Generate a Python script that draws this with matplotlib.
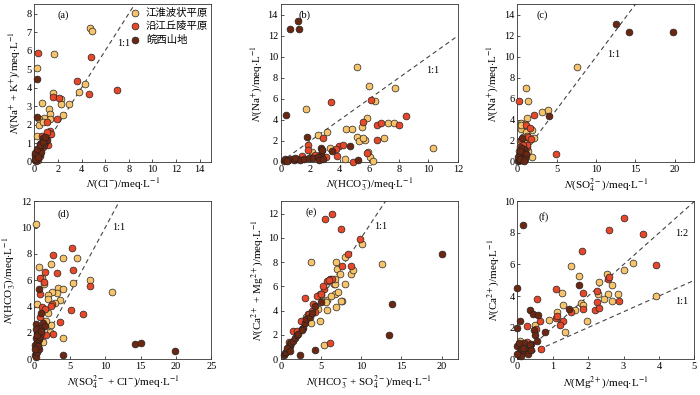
import numpy as np
import matplotlib
matplotlib.use("Agg")
import matplotlib.pyplot as plt

plt.rcParams['font.family'] = ['Liberation Serif', 'Noto Sans CJK SC']
plt.rcParams['mathtext.fontset'] = 'stix'
plt.rcParams['font.size'] = 7

c_yel = '#F7C46C'
c_red = '#E8482A'
c_brn = '#6B2712'
groups = ['江淮波状平原', '沿江丘陵平原', '皖西山地']

# (a) Cl- vs Na+ + K+
a_yel = [[4.7, 7.23], [4.9, 7.05], [1.7, 5.8], [0.2, 5.06], [0.68, 3.2], [1.55, 3.74], [3.77, 3.77],
         [4.3, 4.22], [2.25, 3.42], [2.28, 3.13], [2.96, 3.13], [1.24, 2.88], [1.35, 2.6], [1.3, 2.34],
         [2.4, 2.54], [0.8, 2.36], [0.4, 2.33], [0.37, 1.97], [0.76, 2.18], [0.2, 1.4], [0.25, 0.48],
         [0.9, 1.2], [0.6, 0.9], [1.0, 1.35]]
a_red = [[0.3, 5.85], [4.8, 5.67], [3.6, 4.37], [1.6, 3.52], [2.05, 3.47], [4.6, 3.69], [7.0, 3.88],
         [1.95, 2.33], [1.3, 1.66], [1.3, 1.52], [1.1, 2.15], [0.65, 1.38], [1.2, 0.91], [0.5, 0.98],
         [0.28, 0.12], [1.4, 1.5], [1.1, 1.6], [0.9, 1.1], [0.7, 0.8], [0.5, 0.6], [0.3, 0.4],
         [0.8, 1.3], [0.45, 0.3], [1.0, 1.2]]
a_brn = [[0.2, 4.47], [0.2, 2.45], [0.76, 1.29], [1.04, 1.2], [0.2, 0.3], [0.1, 0.1], [0.15, 0.2],
         [0.3, 0.5], [0.05, 0.35], [0.4, 0.7], [0.6, 1.0], [0.25, 0.15], [0.5, 0.45], [0.35, 0.6],
         [0.1, 0.5], [0.8, 0.9], [0.6, 0.55], [0.15, 0.05], [0.2, 0.7], [0.45, 0.9], [0.05, 0.15],
         [0.3, 0.25], [0.7, 1.1], [0.9, 1.35]]

# (b) HCO3- vs Na+
b_yel = [[5.15, 9.0], [6.01, 7.22], [7.75, 7.0], [6.4, 5.79], [1.72, 5.06], [5.83, 4.23], [7.3, 3.75],
         [7.7, 3.75], [4.43, 3.12], [4.8, 3.18], [5.5, 3.34], [3.12, 2.86], [2.55, 2.6], [5.71, 2.13],
         [5.2, 2.39], [5.33, 1.97], [5.56, 2.3], [7.0, 2.3], [3.37, 1.37], [2.1, 0.95], [2.1, 0.48],
         [4.34, 0.32], [5.94, 0.95], [6.05, 0.48], [6.24, 0.1], [10.3, 1.37]]
b_red = [[3.43, 5.7], [6.14, 5.89], [5.6, 3.82], [6.55, 3.47], [6.8, 3.72], [8.0, 3.53], [8.47, 4.33],
         [6.5, 2.13], [2.9, 2.32], [1.88, 1.59], [1.83, 1.1], [3.98, 1.5], [4.25, 1.6], [3.77, 1.21],
         [3.8, 0.54], [3.07, 0.48], [4.93, 0.03], [5.83, 0.86], [1.42, 0.54], [2.33, 0.64]]
b_brn = [[0.63, 12.63], [1.15, 13.46], [1.27, 12.63], [0.36, 4.45], [1.76, 2.39], [2.73, 1.34],
         [2.78, 1.11], [2.7, 0.8], [2.67, 0.32], [4.7, 1.5], [5.27, 0.22], [2.78, 1.18], [0.2, 0.1],
         [0.3, 0.25], [0.5, 0.2], [0.7, 0.3], [0.9, 0.15], [1.1, 0.3], [1.3, 0.2], [1.6, 0.25],
         [1.9, 0.4], [2.2, 0.35], [2.5, 0.5], [2.6, 0.15], [3.5, 1.0], [0.4, 0.05], [1.0, 0.35],
         [2.9, 0.25]]

# (c) SO4 2- vs Na+
c_yel_pts = [[7.58, 9.0], [1.14, 7.0], [1.39, 5.79], [3.16, 4.77], [3.87, 4.93], [1.26, 4.2], [0.42, 3.72],
             [0.93, 3.6], [0.42, 3.09], [1.81, 3.02], [1.05, 2.86], [2.1, 2.32], [1.26, 2.45], [0.7, 2.39],
             [1.9, 0.48], [0.6, 1.43], [0.3, 2.0], [1.5, 2.0], [0.5, 3.5], [0.2, 1.0], [1.3, 1.0], [0.8, 1.8]]
c_red_pts = [[0.21, 5.82], [2.1, 4.45], [1.05, 3.5], [1.6, 3.25], [0.5, 2.07], [1.26, 1.43], [4.88, 0.8],
             [0.76, 0.8], [1.0, 1.1], [0.4, 0.5], [0.6, 1.2], [1.2, 1.6], [0.3, 0.9], [0.9, 0.4],
             [1.4, 2.4], [0.2, 0.2], [1.1, 0.7], [0.7, 1.6], [0.5, 0.15], [1.7, 2.2], [0.35, 1.4]]
c_brn_pts = [[12.55, 13.1], [14.2, 12.4], [19.83, 12.4], [4.0, 4.36], [0.1, 0.1], [0.2, 0.3], [0.3, 0.15],
             [0.5, 0.4], [0.4, 0.7], [0.6, 0.2], [0.8, 0.5], [0.2, 0.6], [0.7, 0.9], [0.9, 1.2],
             [1.1, 0.8], [0.5, 1.3], [0.3, 1.0], [0.15, 0.45], [1.0, 0.3], [0.6, 2.3], [0.35, 0.25],
             [0.9, 0.1]]

# (d) SO4 2- + Cl- vs HCO3-
d_yel = [[0.28, 10.27], [0.6, 7.0], [4.1, 7.68], [2.34, 7.25], [5.98, 7.73], [1.07, 6.15], [1.31, 5.7],
         [7.85, 6.0], [10.93, 5.11], [5.5, 5.77], [3.41, 5.39], [4.1, 5.34], [3.18, 5.06], [2.48, 5.14],
         [1.9, 4.88], [0.37, 4.2], [3.64, 4.5], [2.94, 4.25], [2.38, 2.6], [2.24, 2.08], [1.21, 1.32],
         [4.02, 1.63], [1.92, 3.48], [2.0, 4.57], [1.6, 2.9], [1.0, 2.2]]
d_red = [[5.28, 8.44], [2.57, 7.93], [5.42, 6.76], [3.27, 6.53], [1.45, 6.61], [0.75, 6.18], [1.31, 5.85],
         [0.75, 4.93], [2.48, 4.2], [2.34, 4.02], [1.07, 3.97], [1.54, 3.79], [0.84, 3.2], [5.14, 3.74],
         [6.92, 3.4], [3.64, 2.85], [7.85, 5.6], [2.57, 1.88], [1.68, 1.83], [0.9, 2.0], [0.5, 1.4]]
d_brn = [[0.7, 5.31], [0.19, 2.67], [0.84, 2.34], [1.21, 2.72], [0.98, 3.48], [1.54, 2.52], [4.1, 0.3],
         [14.25, 1.12], [15.1, 1.22], [19.8, 0.64], [0.1, 0.3], [0.2, 0.6], [0.3, 0.9], [0.15, 1.1],
         [0.4, 1.3], [0.25, 1.6], [0.5, 1.9], [0.35, 2.0], [0.6, 1.5], [0.2, 0.15], [0.45, 0.5],
         [0.7, 0.8], [0.3, 2.3], [0.55, 1.0], [0.1, 0.8], [0.8, 1.7], [0.4, 1.85], [1.0, 2.1]]

# (e) HCO3- + SO4 2- vs Ca2+ + Mg2+
e_yel = [[3.82, 8.0], [6.86, 8.0], [10.14, 9.46], [12.53, 7.86], [8.0, 8.41], [6.98, 7.39], [7.39, 6.98],
         [8.7, 6.98], [9.04, 7.31], [6.57, 6.15], [8.0, 6.15], [6.78, 5.38], [5.75, 4.91], [6.9, 4.28],
         [5.75, 4.08], [7.6, 4.77], [4.93, 3.12], [3.78, 2.98], [5.34, 1.19], [4.6, 4.1], [7.5, 4.8],
         [5.6, 4.7], [6.2, 5.2], [7.1, 5.5], [5.0, 5.3], [3.2, 3.5], [6.7, 6.2], [4.9, 5.4], [6.8, 6.6]]
e_red = [[5.46, 11.53], [6.37, 11.94], [7.47, 10.76], [9.86, 9.88], [8.42, 8.69], [7.64, 7.64],
         [8.71, 7.64], [3.08, 5.05], [6.08, 6.57], [4.02, 4.55], [3.37, 3.72], [1.48, 2.34], [2.05, 2.29],
         [6.16, 1.32], [1.0, 1.4], [1.2, 1.3], [2.5, 3.1], [3.5, 3.7], [4.5, 5.2], [5.4, 5.8], [5.8, 6.4],
         [6.4, 6.6], [4.2, 3.9], [3.9, 4.0], [5.0, 5.4], [1.1, 1.2], [0.9, 0.9], [6.0, 6.5], [5.3, 6.0]]
e_brn = [[20.04, 8.69], [13.88, 4.5], [13.47, 2.01], [4.31, 0.77], [2.34, 0.3], [0.41, 0.3], [0.5, 0.5],
         [0.7, 0.6], [0.9, 0.8], [1.0, 1.0], [1.2, 1.1], [1.3, 1.3], [1.5, 1.5], [1.8, 1.7], [2.0, 2.0],
         [2.2, 2.1], [2.6, 2.5], [2.8, 2.6], [3.0, 3.0], [3.2, 3.3], [3.6, 3.5], [3.9, 3.8], [4.3, 4.4],
         [0.8, 0.9], [1.1, 0.7], [2.7, 2.4], [5.0, 4.7]]

# (f) Mg2+ vs Ca2+
f_yel = [[1.53, 5.9], [1.75, 5.26], [2.52, 5.37], [3.02, 5.63], [3.28, 6.12], [2.57, 4.1], [2.28, 4.1],
         [2.85, 4.1], [2.66, 4.69], [2.32, 4.9], [1.25, 4.2], [1.11, 3.0], [1.28, 3.46], [1.79, 3.57],
         [1.85, 3.4], [1.96, 2.44], [1.63, 3.14], [1.35, 1.72], [0.5, 2.19], [0.9, 2.5], [3.91, 4.03],
         [2.45, 3.84], [2.66, 3.67], [0.09, 1.13]]
f_red = [[3.0, 8.94], [2.59, 8.17], [3.54, 7.96], [1.82, 6.86], [3.92, 5.94], [2.57, 5.05], [2.58, 5.2],
         [1.08, 4.42], [1.85, 4.2], [2.24, 4.31], [2.26, 3.63], [2.18, 3.14], [2.32, 3.25], [2.88, 3.67],
         [0.56, 3.78], [0.64, 2.44], [0.28, 2.08], [0.53, 1.93], [1.09, 2.61], [1.11, 2.76], [1.3, 2.4],
         [1.52, 2.99], [1.86, 3.2], [1.2, 2.19], [0.66, 0.66], [0.26, 1.06]]
f_brn = [[0.15, 8.51], [0.0, 4.48], [0.0, 1.97], [0.09, 2.4], [0.36, 3.14], [0.45, 2.87], [0.59, 2.82],
         [0.78, 1.72], [0.47, 1.87], [0.5, 1.55], [0.55, 1.13], [0.4, 0.98], [1.75, 4.69], [1.47, 3.2],
         [0.0, 0.8], [0.05, 0.4], [0.1, 0.6], [0.15, 0.9], [0.2, 0.5], [0.25, 0.8], [0.3, 0.6], [0.1, 0.2],
         [0.2, 1.0], [0.35, 0.9], [0.05, 1.0], [0.3, 0.3], [0.15, 0.7], [0.4, 0.6], [0.0, 0.3]]

xlabels = [r'$\it{N}$(Cl$^{-}$)/meq$\cdot$L$^{-1}$',
           r'$\it{N}$(HCO$_3^{-}$)/meq$\cdot$L$^{-1}$',
           r'$\it{N}$(SO$_4^{2-}$)/meq$\cdot$L$^{-1}$',
           r'$\it{N}$(SO$_4^{2-}$ + Cl$^{-}$)/meq$\cdot$L$^{-1}$',
           r'$\it{N}$(HCO$_3^{-}$ + SO$_4^{2-}$)/meq$\cdot$L$^{-1}$',
           r'$\it{N}$(Mg$^{2+}$)/meq$\cdot$L$^{-1}$']
ylabels = [r'$\it{N}$(Na$^{+}$ + K$^{+}$)/meq$\cdot$L$^{-1}$',
           r'$\it{N}$(Na$^{+}$)/meq$\cdot$L$^{-1}$',
           r'$\it{N}$(Na$^{+}$)/meq$\cdot$L$^{-1}$',
           r'$\it{N}$(HCO$_3^{-}$)/meq$\cdot$L$^{-1}$',
           r'$\it{N}$(Ca$^{2+}$ + Mg$^{2+}$)/meq$\cdot$L$^{-1}$',
           r'$\it{N}$(Ca$^{2+}$)/meq$\cdot$L$^{-1}$']
xlims = [15, 12, 22.5, 25, 22, 5]
ylims = [8.5, 15, 15, 12, 13, 10]
xticks = [np.arange(0, 15, 2), np.arange(0, 13, 2), np.arange(0, 21, 5),
          np.arange(0, 26, 5), np.arange(0, 21, 5), np.arange(0, 6, 1)]
yticks = [np.arange(0, 9, 1), np.arange(0, 15, 2), np.arange(0, 15, 2),
          np.arange(0, 13, 2), np.arange(0, 13, 2), np.arange(0, 11, 2)]
tags = ['(a)', '(b)', '(c)', '(d)', '(e)', '(f)']
tag_pos = [(2.45, 7.9), (1.58, 14.0), (3.16, 14.0), (4.11, 11.06), (3.82, 12.08), (0.73, 9.02)]
ratio_pos = [(7.0, 6.4), (9.85, 8.75), (11.45, 10.2), (11.0, 10.0), (11.6, 10.9)]

data = [(a_yel, a_red, a_brn), (b_yel, b_red, b_brn), (c_yel_pts, c_red_pts, c_brn_pts),
        (d_yel, d_red, d_brn), (e_yel, e_red, e_brn), (f_yel, f_red, f_brn)]

fig = plt.figure(figsize=(7, 3.95), dpi=100)
lefts = [0.049, 0.401, 0.739]
bottoms = [0.590, 0.091]
axes = []
for i in range(6):
    ax = fig.add_axes([lefts[i % 3], bottoms[i // 3], 0.253, 0.399])
    axes.append(ax)

for i, ax in enumerate(axes):
    yel, red, brn = data[i]
    for pts, col, lab in zip([yel, red, brn], [c_yel, c_red, c_brn], groups):
        pts = np.array(pts)
        ax.scatter(pts[:, 0], pts[:, 1], s=24, c=col, edgecolors='#222222',
                   linewidths=0.5, label=lab, zorder=3, clip_on=False)
    lim = max(xlims[i], ylims[i])
    if i < 5:
        ax.plot([0, lim], [0, lim], ls=(0, (4, 3)), color='#444444', lw=0.8, zorder=2)
        ax.text(ratio_pos[i][0], ratio_pos[i][1], '1:1', fontsize=7.5, va='center')
    else:
        ax.plot([0, 5], [0, 10], ls=(0, (4, 3)), color='#444444', lw=0.8, zorder=2)
        ax.plot([0, 5], [0, 5], ls=(0, (4, 3)), color='#444444', lw=0.8, zorder=2)
        ax.text(4.45, 7.96, '1:2', fontsize=7.5, va='center')
        ax.text(4.45, 3.63, '1:1', fontsize=7.5, va='center')
    ax.text(tag_pos[i][0], tag_pos[i][1], tags[i], fontsize=7.5, ha='center', va='center')
    ax.set_xlim(0, xlims[i])
    ax.set_ylim(0, ylims[i])
    ax.set_xticks(xticks[i])
    ax.set_yticks(yticks[i])
    ax.tick_params(direction='in', length=2.5, width=0.6, labelsize=7.5, pad=2,
                   colors='#333333', labelcolor='black')
    for sp in ax.spines.values():
        sp.set_linewidth(0.6)
        sp.set_color('#333333')
    ax.set_xlabel(xlabels[i], fontsize=8, labelpad=2)
    ax.set_ylabel(ylabels[i], fontsize=8, labelpad=2)

leg = axes[0].legend(loc='upper right', frameon=False, handletextpad=0.1,
                     borderaxespad=0.1, labelspacing=0.35, markerscale=1.0, borderpad=0.2,
                     prop={'family': ['Noto Sans CJK SC'], 'size': 7.5})

fig.savefig('out.png', dpi=100)
